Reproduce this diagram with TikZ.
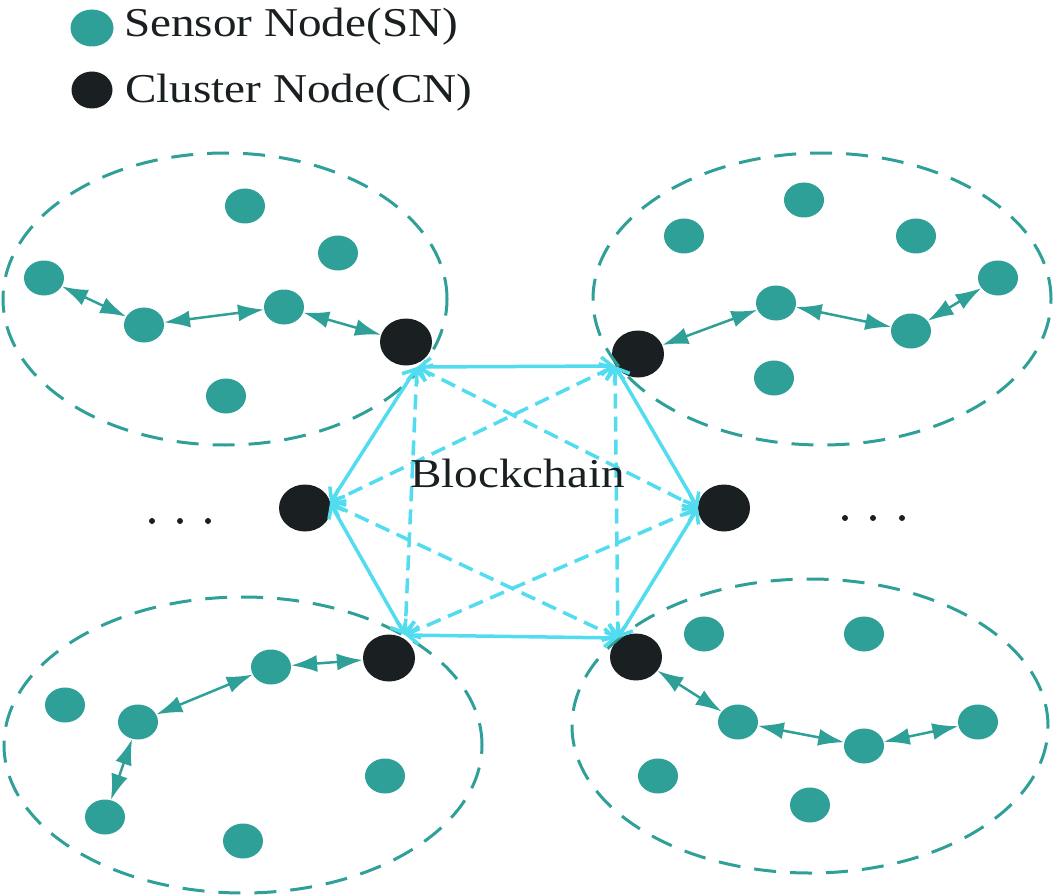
\documentclass[tikz,border=0pt]{standalone}
\usepackage{fontspec}
\setmainfont{Liberation Serif}[FakeStretch=1.15]
\usetikzlibrary{arrows.meta,shapes.geometric}
\definecolor{sn}{HTML}{2FA098}
\definecolor{cn}{HTML}{1A2021}
\definecolor{bc}{HTML}{52DCEF}
\tikzset{
  sensor/.style={ellipse, fill=sn, minimum width=40pt, minimum height=35pt, inner sep=0pt},
  cluster/.style={ellipse, fill=cn, minimum width=52pt, minimum height=47pt, inner sep=0pt},
  legsn/.style={ellipse, fill=sn, minimum width=43pt, minimum height=37pt, inner sep=0pt},
  legcn/.style={ellipse, fill=cn, minimum width=41pt, minimum height=37pt, inner sep=0pt},
  region/.style={draw=sn, line width=3pt, dash pattern=on 22pt off 14pt},
  link/.style={draw=sn, line width=2.5pt, {Latex[length=26pt,width=17pt]}-{Latex[length=26pt,width=17pt]}},
  chain/.style={draw=bc, line width=3.5pt, {Straight Barb[length=11pt,width=18pt]}-{Straight Barb[length=11pt,width=18pt]}},
  chaind/.style={chain, dash pattern=on 15pt off 8pt},
  label/.style={font=\fontsize{41pt}{45pt}\selectfont, text=cn, inner sep=0pt},
  dotmark/.style={circle, fill=cn, minimum size=6pt, inner sep=0pt}
}
\begin{document}
\begin{tikzpicture}[x=1pt,y=-1pt]
\useasboundingbox (0,0) rectangle (1063,896);

% legend
\node[legsn] (lsn) at (92,28) {};
\node[label, anchor=base west] (lsnt) at (124,37) {Sensor Node(SN)};
\node[legcn] (lcn) at (92,90) {};
\node[label, anchor=base west] (lcnt) at (125,103) {Cluster Node(CN)};

% cluster nodes
\node[cluster] (ctl) at (406,342) {};
\node[cluster] (ctr) at (638,354) {};
\node[cluster] (cml) at (305,508) {};
\node[cluster] (cmr) at (724,508) {};
\node[cluster] (cbl) at (389,658) {};
\node[cluster] (cbr) at (636,657) {};

% top-left cluster
\node[sensor] (a1) at (245,206) {};
\node[sensor] (a2) at (338,253) {};
\node[sensor] (a3) at (44,278) {};
\node[sensor] (a4) at (144,325) {};
\node[sensor] (a5) at (284,307) {};
\node[sensor] (a6) at (226,396) {};
\draw[link] (a3) -- (a4);
\draw[link] (a4) -- (a5);
\draw[link] (a5) -- (ctl);

% top-right cluster
\node[sensor] (b1) at (804,200) {};
\node[sensor] (b2) at (684,236) {};
\node[sensor] (b3) at (916,236) {};
\node[sensor] (b4) at (998,278) {};
\node[sensor] (b5) at (776,303) {};
\node[sensor] (b6) at (911,331) {};
\node[sensor] (b7) at (774,378) {};
\draw[link] (ctr) -- (b5);
\draw[link] (b5) -- (b6);
\draw[link] (b6) -- (b4);

% bottom-left cluster
\node[sensor] (c1) at (65,705) {};
\node[sensor] (c2) at (138,722) {};
\node[sensor] (c3) at (271,667) {};
\node[sensor] (c4) at (385,776) {};
\node[sensor] (c5) at (105,817) {};
\node[sensor] (c6) at (243,841) {};
\draw[link] (cbl) -- (c3);
\draw[link] (c3) -- (c2);
\draw[link] (c2) -- (c5);

% bottom-right cluster
\node[sensor] (d1) at (704,634) {};
\node[sensor] (d2) at (864,634) {};
\node[sensor] (d3) at (738,722) {};
\node[sensor] (d4) at (864,746) {};
\node[sensor] (d5) at (978,722) {};
\node[sensor] (d6) at (658,776) {};
\node[sensor] (d7) at (810,805) {};
\draw[link] (cbr) -- (d3);
\draw[link] (d3) -- (d4);
\draw[link] (d4) -- (d5);

% cluster regions
\draw[region] (225,299) ellipse [x radius=222pt, y radius=146pt];
\draw[region] (822,299) ellipse [x radius=229pt, y radius=146pt];
\draw[region] (243,745) ellipse [x radius=239pt, y radius=148pt];
\draw[region] (810,726) ellipse [x radius=238pt, y radius=147pt];

% blockchain ports
\coordinate (ptl) at (417,367);
\coordinate (ptr) at (615,366);
\coordinate (pml) at (330,503);
\coordinate (pmr) at (698,508);
\coordinate (pbl) at (405,635);
\coordinate (pbr) at (618,638);

% blockchain links
\draw[chain] (ptl) -- (ptr);
\draw[chain] (ptr) -- (pmr);
\draw[chain] (pmr) -- (pbr);
\draw[chain] (pbr) -- (pbl);
\draw[chain] (pbl) -- (pml);
\draw[chain] (pml) -- (ptl);
\draw[chaind] (ptl) -- (pbl);
\draw[chaind] (ptr) -- (pbr);
\draw[chaind] (ptl) -- (pmr);
\draw[chaind] (ptr) -- (pml);
\draw[chaind] (pml) -- (pbr);
\draw[chaind] (pmr) -- (pbl);

\node[label, anchor=base west] (bct) at (410,487) {Blockchain};

% ellipsis marks
\node[dotmark] (l1) at (152,521) {};
\node[dotmark] (l2) at (180,521) {};
\node[dotmark] (l3) at (208,521) {};
\node[dotmark] (r1) at (845,518) {};
\node[dotmark] (r2) at (873,518) {};
\node[dotmark] (r3) at (902,518) {};
\end{tikzpicture}
\end{document}
